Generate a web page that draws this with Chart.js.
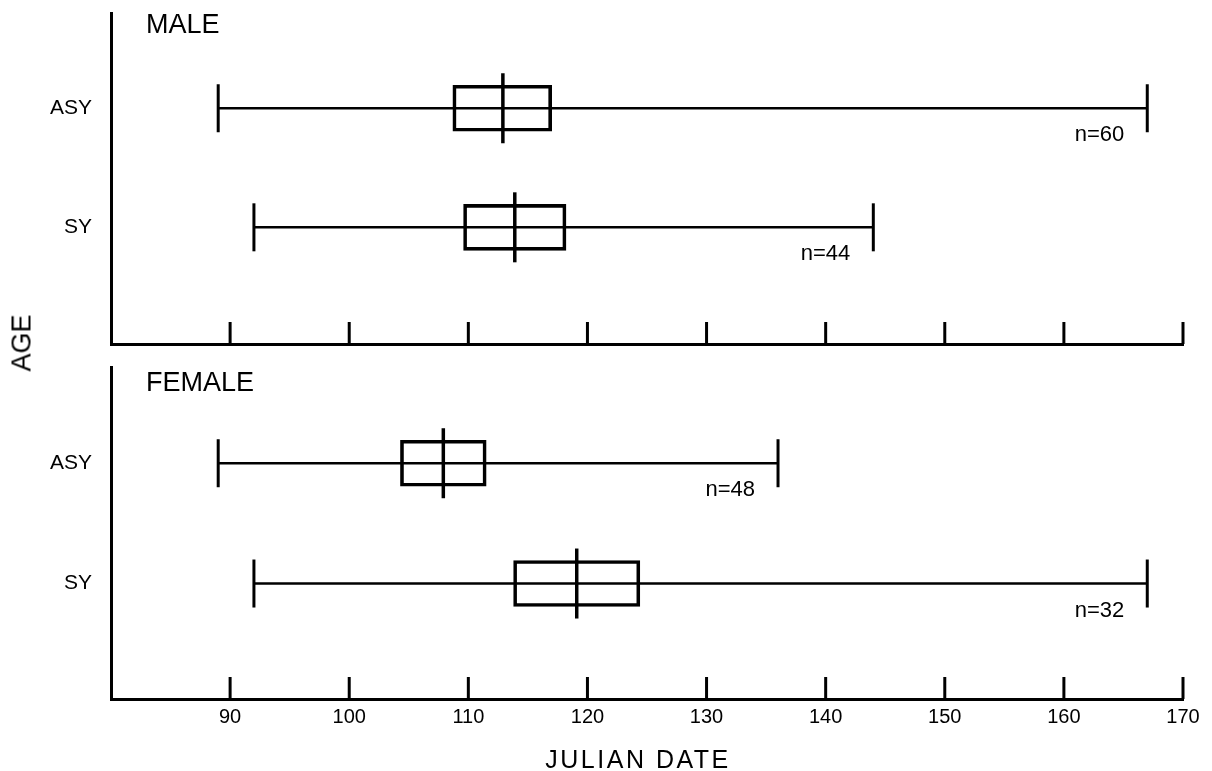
<!DOCTYPE html>
<html>
<head>
<meta charset="utf-8">
<script src="https://cdn.jsdelivr.net/npm/chart.js@4.4.1/dist/chart.umd.min.js"></script>
<style>
  body { margin: 0; background: #fff; width: 1212px; height: 771px; position: relative; overflow: hidden;
         font-family: "Liberation Sans", Arial, sans-serif; }
  canvas { position: absolute; left: 0; }
  #male { top: 0; }
  #female { top: 360px; }
  #age { position: absolute; left: 22px; top: 343px; transform: translate(-50%, -50%) rotate(-90deg);
         font-size: 27px; color: #000; white-space: nowrap; }
  #xtitle { position: absolute; left: 638px; top: 759px; transform: translate(-50%, -50%);
            font-size: 25px; letter-spacing: 2.5px; color: #000; white-space: nowrap; }
</style>
</head>
<body>
<canvas id="male" width="1212" height="360"></canvas>
<canvas id="female" width="1212" height="411"></canvas>
<div id="age">AGE</div>
<div id="xtitle">JULIAN DATE</div>
<script>
// age classes, top to bottom
const ages = ['ASY', 'SY'];
const xTicks = [90, 100, 110, 120, 130, 140, 150, 160, 170];

// julian dates
const maleMin = [89, 92];
const maleMax = [167, 144];
const maleBoxLow = [108.7, 109.6];
const maleBoxHigh = [117.0, 118.2];
const maleMid = [112.9, 113.9];
const maleN = [60, 44];

const femaleMin = [89, 92];
const femaleMax = [136, 167];
const femaleBoxLow = [104.3, 113.8];
const femaleBoxHigh = [111.5, 124.4];
const femaleMid = [107.9, 119.1];
const femaleN = [48, 32];

const FONT = '"Liberation Sans", Arial, sans-serif';

// whiskers, end caps, centre lines, n labels, inward ticks and panel title
const boxExtras = {
    id: 'boxExtras',
    afterDatasetsDraw(chart, args, opts) {
        const ctx = chart.ctx;
        const x = chart.scales.x, y = chart.scales.y;
        const area = chart.chartArea;
        ctx.save();
        ctx.strokeStyle = '#000';
        ctx.fillStyle = '#000';
        ctx.lineCap = 'butt';

        // inward ticks
        ctx.lineWidth = 3;
        xTicks.forEach(v => {
            const px = x.getPixelForValue(v);
            ctx.beginPath();
            ctx.moveTo(px, area.bottom);
            ctx.lineTo(px, area.bottom - 22);
            ctx.stroke();
        });

        ages.forEach((a, i) => {
            const py = y.getPixelForValue(i + 1);
            const x0 = x.getPixelForValue(opts.min[i]);
            const x1 = x.getPixelForValue(opts.max[i]);
            const xm = x.getPixelForValue(opts.mid[i]);

            ctx.lineWidth = 2.5;
            ctx.beginPath();
            ctx.moveTo(x0, py);
            ctx.lineTo(x1, py);
            ctx.stroke();

            ctx.lineWidth = 3;
            [x0, x1].forEach(px => {
                ctx.beginPath();
                ctx.moveTo(px, py - 24);
                ctx.lineTo(px, py + 24);
                ctx.stroke();
            });

            ctx.lineWidth = 3.5;
            ctx.beginPath();
            ctx.moveTo(xm, py - 35);
            ctx.lineTo(xm, py + 35);
            ctx.stroke();

            ctx.font = '22px ' + FONT;
            ctx.textAlign = 'right';
            ctx.textBaseline = 'middle';
            ctx.fillText('n=' + opts.n[i], x1 - 23, py + 27);
        });

        ctx.font = '27px ' + FONT;
        ctx.textAlign = 'left';
        ctx.textBaseline = 'middle';
        ctx.fillText(opts.title, area.left + 35, area.top + opts.titleOffset);
        ctx.restore();
    }
};

function makePanel(id, title, titleOffset, min, max, low, high, mid, n, bottomPanel, padTop, yMax) {
    return new Chart(document.getElementById(id), {
        type: 'bar',
        data: {
            datasets: [{
                data: ages.map((a, i) => ({ x: [low[i], high[i]], y: i + 1 })),
                backgroundColor: 'rgba(0,0,0,0)',
                borderColor: '#000',
                borderWidth: 3,
                borderSkipped: false,
                barThickness: 46
            }]
        },
        options: {
            indexAxis: 'y',
            responsive: false,
            animation: false,
            layout: { padding: { top: padTop, right: 29, bottom: bottomPanel ? 0 : 16, left: 0 } },
            plugins: {
                legend: { display: false },
                tooltip: { enabled: false },
                boxExtras: { title: title, titleOffset: titleOffset, min: min, max: max, mid: mid, n: n }
            },
            scales: {
                x: {
                    type: 'linear',
                    min: 80,
                    max: 170,
                    grid: { display: false, drawTicks: false },
                    border: { display: true, color: '#000', width: 3 },
                    ticks: {
                        display: bottomPanel,
                        stepSize: 10,
                        autoSkip: false,
                        maxRotation: 0,
                        padding: 6,
                        color: '#000',
                        font: { family: FONT, size: 20 },
                        callback: v => (v === 80 ? '' : v)
                    },
                    afterFit: s => { s.height = bottomPanel ? 72 : 0; }
                },
                y: {
                    type: 'linear',
                    reverse: true,
                    offset: false,
                    min: 0.2,
                    max: yMax,
                    grid: { display: false, drawTicks: false },
                    border: { display: true, color: '#000', width: 3 },
                    afterBuildTicks: s => { s.ticks = ages.map((a, i) => ({ value: i + 1 })); },
                    ticks: {
                        padding: 19,
                        color: '#000',
                        font: { family: FONT, size: 21 },
                        callback: v => ages[v - 1]
                    },
                    afterFit: s => { s.width = 111; s.paddingTop = 0; s.paddingBottom = 0; }
                }
            }
        },
        plugins: [boxExtras]
    });
}

makePanel('male', 'MALE', 13, maleMin, maleMax, maleBoxLow, maleBoxHigh, maleMid, maleN, false, 13, 2.98);
makePanel('female', 'FEMALE', 17, femaleMin, femaleMax, femaleBoxLow, femaleBoxHigh, femaleMid, femaleN, true, 7, 2.96);
</script>
</body>
</html>
